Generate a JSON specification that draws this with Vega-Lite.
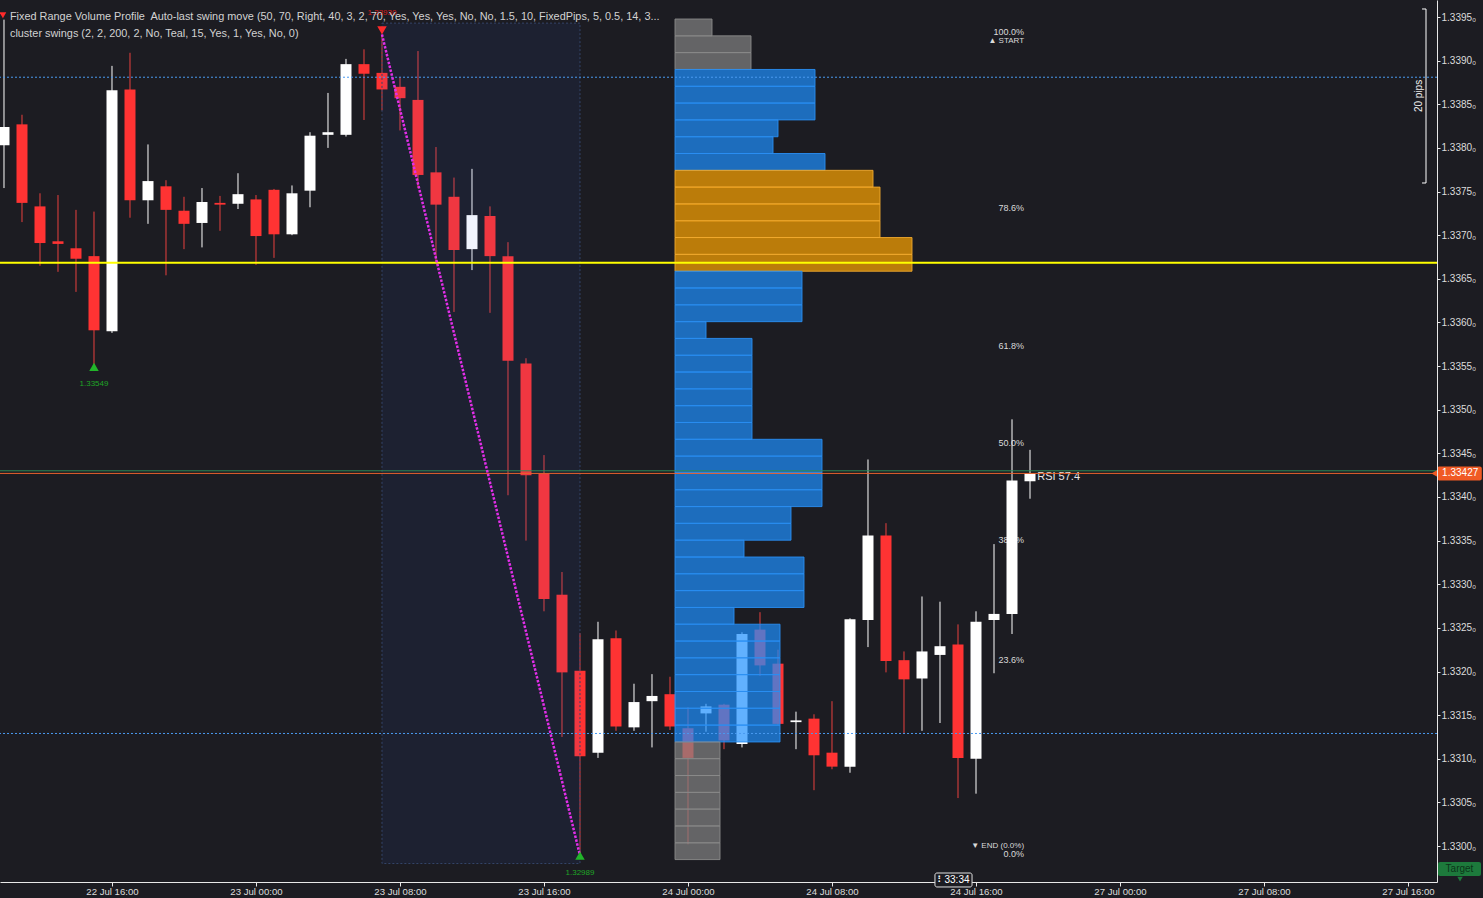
{
  "$schema": "https://vega.github.io/schema/vega-lite/v6.json",
  "width": 1437,
  "height": 882,
  "autosize": {"type": "none"},
  "padding": {"left": 0, "top": 0, "right": 46, "bottom": 16},
  "background": "#1c1c22",
  "config": {
    "view": {"stroke": null},
    "font": "Liberation Sans",
    "axis": {"title": null, "grid": false}
  },
  "datasets": {
    "candles": [
      {"t":10,"open":1.33803,"high":1.33947,"low":1.33754,"close":1.33824},
      {"t":11,"open":1.33827,"high":1.33838,"low":1.33715,"close":1.33737},
      {"t":12,"open":1.33733,"high":1.33748,"low":1.33665,"close":1.33691},
      {"t":13,"open":1.33693,"high":1.33746,"low":1.33658,"close":1.33690},
      {"t":14,"open":1.33685,"high":1.33729,"low":1.33635,"close":1.33673},
      {"t":15,"open":1.33676,"high":1.33727,"low":1.33549,"close":1.33591},
      {"t":16,"open":1.33590,"high":1.33894,"low":1.33588,"close":1.33866},
      {"t":17,"open":1.33867,"high":1.33909,"low":1.33720,"close":1.33740},
      {"t":18,"open":1.33740,"high":1.33804,"low":1.33713,"close":1.33762},
      {"t":19,"open":1.33756,"high":1.33763,"low":1.33654,"close":1.33729},
      {"t":20,"open":1.33728,"high":1.33744,"low":1.33684,"close":1.33713},
      {"t":21,"open":1.33714,"high":1.33754,"low":1.33686,"close":1.33738},
      {"t":22,"open":1.33737,"high":1.33745,"low":1.33705,"close":1.33735},
      {"t":23,"open":1.33736,"high":1.33771,"low":1.33730,"close":1.33747},
      {"t":24,"open":1.33741,"high":1.33746,"low":1.33666,"close":1.33699},
      {"t":25,"open":1.33752,"high":1.33753,"low":1.33674,"close":1.33701},
      {"t":26,"open":1.33701,"high":1.33757,"low":1.33700,"close":1.33748},
      {"t":27,"open":1.33751,"high":1.33818,"low":1.33732,"close":1.33814},
      {"t":28,"open":1.33815,"high":1.33863,"low":1.33800,"close":1.33818},
      {"t":29,"open":1.33815,"high":1.33902,"low":1.33813,"close":1.33896},
      {"t":30,"open":1.33896,"high":1.33913,"low":1.33832,"close":1.33885},
      {"t":31,"open":1.33886,"high":1.33930,"low":1.33843,"close":1.33867},
      {"t":32,"open":1.33870,"high":1.33881,"low":1.33820,"close":1.33857},
      {"t":33,"open":1.33855,"high":1.33911,"low":1.33754,"close":1.33769},
      {"t":34,"open":1.33772,"high":1.33801,"low":1.33669,"close":1.33735},
      {"t":35,"open":1.33744,"high":1.33766,"low":1.33612,"close":1.33683},
      {"t":36,"open":1.33684,"high":1.33776,"low":1.33660,"close":1.33723},
      {"t":37,"open":1.33722,"high":1.33733,"low":1.33611,"close":1.33676},
      {"t":38,"open":1.33676,"high":1.33692,"low":1.33402,"close":1.33556},
      {"t":39,"open":1.33553,"high":1.33559,"low":1.33350,"close":1.33425},
      {"t":40,"open":1.33427,"high":1.33448,"low":1.33269,"close":1.33283},
      {"t":41,"open":1.33288,"high":1.33314,"low":1.33125,"close":1.33199},
      {"t":42,"open":1.33201,"high":1.33244,"low":1.32989,"close":1.33103},
      {"t":43,"open":1.33107,"high":1.33257,"low":1.33101,"close":1.33237},
      {"t":44,"open":1.33238,"high":1.33247,"low":1.33132,"close":1.33137},
      {"t":45,"open":1.33136,"high":1.33186,"low":1.33132,"close":1.33165},
      {"t":46,"open":1.33166,"high":1.33197,"low":1.33113,"close":1.33172},
      {"t":47,"open":1.33174,"high":1.33194,"low":1.33133,"close":1.33137},
      {"t":48,"open":1.33135,"high":1.33159,"low":1.33002,"close":1.33101},
      {"t":49,"open":1.33152,"high":1.33163,"low":1.33131,"close":1.33160},
      {"t":50,"open":1.33162,"high":1.33163,"low":1.33111,"close":1.33121},
      {"t":51,"open":1.33117,"high":1.33245,"low":1.33113,"close":1.33243},
      {"t":52,"open":1.33248,"high":1.33268,"low":1.33195,"close":1.33207},
      {"t":53,"open":1.33209,"high":1.33225,"low":1.33139,"close":1.33140},
      {"t":54,"open":1.33142,"high":1.33154,"low":1.33111,"close":1.33144},
      {"t":55,"open":1.33146,"high":1.33151,"low":1.33064,"close":1.33104},
      {"t":56,"open":1.33107,"high":1.33166,"low":1.33088,"close":1.33091},
      {"t":57,"open":1.33091,"high":1.33261,"low":1.33084,"close":1.33260},
      {"t":58,"open":1.33259,"high":1.33443,"low":1.33228,"close":1.33356},
      {"t":59,"open":1.33356,"high":1.33370,"low":1.33199,"close":1.33212},
      {"t":60,"open":1.33213,"high":1.33223,"low":1.33129,"close":1.33191},
      {"t":61,"open":1.33192,"high":1.33286,"low":1.33132,"close":1.33223},
      {"t":62,"open":1.33219,"high":1.33280,"low":1.33141,"close":1.33229},
      {"t":63,"open":1.33231,"high":1.33254,"low":1.33055,"close":1.33101},
      {"t":64,"open":1.33100,"high":1.33269,"low":1.33060,"close":1.33257},
      {"t":65,"open":1.33259,"high":1.33346,"low":1.33198,"close":1.33266},
      {"t":66,"open":1.33266,"high":1.33489,"low":1.33243,"close":1.33419},
      {"t":67,"open":1.33418,"high":1.33454,"low":1.33398,"close":1.33427}
    ],
    "profile": [
      {"lo":1.339284,"hi":1.339477,"vol":37,"zone":"Outside"},
      {"lo":1.339092,"hi":1.339284,"vol":76,"zone":"Outside"},
      {"lo":1.338899,"hi":1.339092,"vol":76,"zone":"Outside"},
      {"lo":1.338706,"hi":1.338899,"vol":140,"zone":"Value area"},
      {"lo":1.338514,"hi":1.338706,"vol":140,"zone":"Value area"},
      {"lo":1.338321,"hi":1.338514,"vol":140,"zone":"Value area"},
      {"lo":1.338128,"hi":1.338321,"vol":103,"zone":"Value area"},
      {"lo":1.337936,"hi":1.338128,"vol":98,"zone":"Value area"},
      {"lo":1.337743,"hi":1.337936,"vol":150,"zone":"Value area"},
      {"lo":1.337551,"hi":1.337743,"vol":198,"zone":"Cluster"},
      {"lo":1.337358,"hi":1.337551,"vol":205,"zone":"Cluster"},
      {"lo":1.337165,"hi":1.337358,"vol":205,"zone":"Cluster"},
      {"lo":1.336973,"hi":1.337165,"vol":205,"zone":"Cluster"},
      {"lo":1.336780,"hi":1.336973,"vol":237,"zone":"Cluster"},
      {"lo":1.336587,"hi":1.336780,"vol":237,"zone":"Cluster"},
      {"lo":1.336395,"hi":1.336587,"vol":127,"zone":"Value area"},
      {"lo":1.336202,"hi":1.336395,"vol":127,"zone":"Value area"},
      {"lo":1.336009,"hi":1.336202,"vol":127,"zone":"Value area"},
      {"lo":1.335817,"hi":1.336009,"vol":31,"zone":"Value area"},
      {"lo":1.335624,"hi":1.335817,"vol":77,"zone":"Value area"},
      {"lo":1.335432,"hi":1.335624,"vol":77,"zone":"Value area"},
      {"lo":1.335239,"hi":1.335432,"vol":77,"zone":"Value area"},
      {"lo":1.335046,"hi":1.335239,"vol":77,"zone":"Value area"},
      {"lo":1.334854,"hi":1.335046,"vol":77,"zone":"Value area"},
      {"lo":1.334661,"hi":1.334854,"vol":77,"zone":"Value area"},
      {"lo":1.334468,"hi":1.334661,"vol":147,"zone":"Value area"},
      {"lo":1.334276,"hi":1.334468,"vol":147,"zone":"Value area"},
      {"lo":1.334083,"hi":1.334276,"vol":147,"zone":"Value area"},
      {"lo":1.333890,"hi":1.334083,"vol":147,"zone":"Value area"},
      {"lo":1.333698,"hi":1.333890,"vol":116,"zone":"Value area"},
      {"lo":1.333505,"hi":1.333698,"vol":116,"zone":"Value area"},
      {"lo":1.333312,"hi":1.333505,"vol":69,"zone":"Value area"},
      {"lo":1.333120,"hi":1.333312,"vol":129,"zone":"Value area"},
      {"lo":1.332927,"hi":1.333120,"vol":129,"zone":"Value area"},
      {"lo":1.332734,"hi":1.332927,"vol":129,"zone":"Value area"},
      {"lo":1.332542,"hi":1.332734,"vol":59,"zone":"Value area"},
      {"lo":1.332349,"hi":1.332542,"vol":105,"zone":"Value area"},
      {"lo":1.332157,"hi":1.332349,"vol":105,"zone":"Value area"},
      {"lo":1.331964,"hi":1.332157,"vol":105,"zone":"Value area"},
      {"lo":1.331771,"hi":1.331964,"vol":105,"zone":"Value area"},
      {"lo":1.331579,"hi":1.331771,"vol":105,"zone":"Value area"},
      {"lo":1.331386,"hi":1.331579,"vol":105,"zone":"Value area"},
      {"lo":1.331193,"hi":1.331386,"vol":105,"zone":"Value area"},
      {"lo":1.331001,"hi":1.331193,"vol":45,"zone":"Outside"},
      {"lo":1.330808,"hi":1.331001,"vol":45,"zone":"Outside"},
      {"lo":1.330615,"hi":1.330808,"vol":45,"zone":"Outside"},
      {"lo":1.330423,"hi":1.330615,"vol":45,"zone":"Outside"},
      {"lo":1.330230,"hi":1.330423,"vol":45,"zone":"Outside"},
      {"lo":1.330037,"hi":1.330230,"vol":45,"zone":"Outside"},
      {"lo":1.329845,"hi":1.330037,"vol":45,"zone":"Outside"}
    ],
    "fib": [
      {"label":"100.0%","price":1.33930},
      {"label":"78.6%","price":1.33729},
      {"label":"61.8%","price":1.33571},
      {"label":"50.0%","price":1.334595},
      {"label":"38.2%","price":1.33348},
      {"label":"23.6%","price":1.33211},
      {"label":"0.0%","price":1.32989}
    ],
    "swings": [
      {"t":15,"price":1.33549,"kind":"low","label":"1.33549"},
      {"t":42,"price":1.32989,"kind":"low","label":"1.32989"},
      {"t":31,"price":1.33930,"kind":"high","label":"1.33930"}
    ],
    "swingline": [
      {"t":31,"price":1.33930},
      {"t":42,"price":1.32989}
    ],
    "levels": [
      {"price":1.33881,"kind":"range"},
      {"price":1.33129,"kind":"range"},
      {"price":1.33430,"kind":"bid"},
      {"price":1.33427,"kind":"ask"},
      {"price":1.336684,"kind":"poc"}
    ]
  },
  "layer": [
    {
      "layer": [
        {
          "data": {"name": "fib"},
          "mark": {"type": "text", "align": "right", "baseline": "middle", "dy": -2, "fontSize": 9, "color": "#dadada"},
          "encoding": {
            "x": {"datum": 66.67, "type": "quantitative", "scale": {"domain": [9.778, 89.611], "nice": false, "zero": false, "padding": 0}, "axis": {"values": [16,24,32,40,48,56,64,72,80,88], "labelExpr": "['22 Jul','23 Jul','24 Jul','27 Jul'][floor(datum.value/24)] + ' ' + (datum.value % 24 < 10 ? '0' : '') + (datum.value % 24) + ':00'", "domainColor": "#e8e8e8", "tickColor": "#e8e8e8", "tickSize": 4, "labelColor": "#dcdcdc", "labelFontSize": 9.6, "labelPadding": 0, "title": null}},
            "y": {"field": "price", "type": "quantitative", "scale": {"domain": [1.329588, 1.339695], "nice": false, "zero": false, "padding": 0}, "axis": {"orient": "right", "values": [1.33,1.3305,1.331,1.3315,1.332,1.3325,1.333,1.3335,1.334,1.3345,1.335,1.3355,1.336,1.3365,1.337,1.3375,1.338,1.3385,1.339,1.3395], "labelExpr": "format(datum.value, '.4f') + '₀'", "domainColor": "#e8e8e8", "tickColor": "#e8e8e8", "tickSize": 3, "labelColor": "#dcdcdc", "labelFontSize": 10, "labelPadding": 1, "title": null, "zindex": 1}},
            "text": {"field": "label"}
          }
        },
        {
          "data": {"values": [{"label": "RSI 57.4", "price": 1.33427}]},
          "mark": {"type": "text", "align": "left", "baseline": "middle", "dy": 4, "fontSize": 11, "color": "#e6e6e6"},
          "encoding": {
            "x": {"datum": 67.4, "type": "quantitative", "scale": {"domain": [9.778, 89.611], "nice": false, "zero": false, "padding": 0}},
            "y": {"field": "price", "type": "quantitative", "scale": {"domain": [1.329588, 1.339695], "nice": false, "zero": false, "padding": 0}},
            "text": {"field": "label"}
          }
        },
        {
          "data": {"name": "candles"},
          "mark": {"type": "rule", "strokeWidth": 1, "clip": true},
          "encoding": {
            "x": {"field": "t", "type": "quantitative", "scale": {"domain": [9.778, 89.611], "nice": false, "zero": false, "padding": 0}},
            "y": {"field": "low", "type": "quantitative", "scale": {"domain": [1.329588, 1.339695], "nice": false, "zero": false, "padding": 0}},
            "y2": {"field": "high"},
            "color": {"condition": {"test": "datum.close >= datum.open", "value": "#ffffff"}, "value": "#e8403f"}
          }
        },
        {
          "data": {"name": "candles"},
          "mark": {"type": "bar", "size": 11, "clip": true},
          "encoding": {
            "x": {"field": "t", "type": "quantitative", "scale": {"domain": [9.778, 89.611], "nice": false, "zero": false, "padding": 0}},
            "y": {"field": "open", "type": "quantitative", "scale": {"domain": [1.329588, 1.339695], "nice": false, "zero": false, "padding": 0}},
            "y2": {"field": "close"},
            "color": {"condition": {"test": "datum.close >= datum.open", "value": "#ffffff"}, "value": "#ff3333"}
          }
        },
        {
          "data": {"values": [{"top": 1.33943, "bottom": 1.32980}]},
          "mark": {"type": "rect", "fill": "#3a6ef0", "fillOpacity": 0.075, "stroke": "#34446a", "strokeWidth": 1, "strokeDash": [2, 2]},
          "encoding": {
            "x": {"datum": 31, "type": "quantitative", "scale": {"domain": [9.778, 89.611], "nice": false, "zero": false, "padding": 0}},
            "x2": {"datum": 42},
            "y": {"field": "top", "type": "quantitative", "scale": {"domain": [1.329588, 1.339695], "nice": false, "zero": false, "padding": 0}},
            "y2": {"field": "bottom"}
          }
        }
      ]
    },
    {
      "data": {"name": "profile"},
      "mark": {"type": "rect", "fillOpacity": 0.7, "strokeWidth": 1, "strokeOpacity": 0.9},
      "encoding": {
        "x": {"field": "vol", "type": "quantitative", "scale": {"domain": [-675, 762], "nice": false, "zero": false, "padding": 0}, "axis": null},
        "x2": {"datum": 0},
        "y": {"field": "lo", "type": "quantitative", "scale": {"domain": [1.329588, 1.339695], "nice": false, "zero": false, "padding": 0}},
        "y2": {"field": "hi"},
        "fill": {"field": "zone", "type": "nominal", "scale": {"domain": ["Outside", "Value area", "Cluster"], "range": ["#838383", "#1e90ff", "#ffa500"]}, "legend": null},
        "stroke": {"field": "zone", "type": "nominal", "scale": {"domain": ["Outside", "Value area", "Cluster"], "range": ["#8a8a8a", "#2a8ef2", "#f0a830"]}, "legend": null}
      }
    },
    {
      "layer": [
        {
          "data": {"name": "levels"},
          "transform": [{"filter": "datum.kind == 'poc'"}],
          "mark": {"type": "rule", "color": "#ffff00", "strokeWidth": 2},
          "encoding": {
            "y": {"field": "price", "type": "quantitative", "scale": {"domain": [1.329588, 1.339695], "nice": false, "zero": false, "padding": 0}}
          }
        },
        {
          "data": {"name": "levels"},
          "transform": [{"filter": "datum.kind == 'range'"}],
          "mark": {"type": "rule", "color": "#4a9af0", "strokeWidth": 1, "strokeDash": [2, 2]},
          "encoding": {
            "y": {"field": "price", "type": "quantitative", "scale": {"domain": [1.329588, 1.339695], "nice": false, "zero": false, "padding": 0}}
          }
        },
        {
          "data": {"name": "levels"},
          "transform": [{"filter": "datum.kind == 'bid'"}],
          "mark": {"type": "rule", "color": "#2e8b57", "strokeWidth": 1},
          "encoding": {
            "y": {"field": "price", "type": "quantitative", "scale": {"domain": [1.329588, 1.339695], "nice": false, "zero": false, "padding": 0}}
          }
        },
        {
          "data": {"name": "levels"},
          "transform": [{"filter": "datum.kind == 'ask'"}],
          "mark": {"type": "rule", "color": "#e8612c", "strokeWidth": 1},
          "encoding": {
            "y": {"field": "price", "type": "quantitative", "scale": {"domain": [1.329588, 1.339695], "nice": false, "zero": false, "padding": 0}}
          }
        },
        {
          "data": {"name": "swingline"},
          "mark": {"type": "line", "color": "#e22ee8", "strokeWidth": 2.5, "strokeDash": [2.5, 1.5]},
          "encoding": {
            "x": {"field": "t", "type": "quantitative", "scale": {"domain": [9.778, 89.611], "nice": false, "zero": false, "padding": 0}, "axis": null},
            "y": {"field": "price", "type": "quantitative", "scale": {"domain": [1.329588, 1.339695], "nice": false, "zero": false, "padding": 0}}
          }
        },
        {
          "data": {"name": "swings"},
          "transform": [{"filter": "datum.kind == 'low'"}],
          "mark": {"type": "point", "shape": "triangle-up", "filled": true, "size": 90, "color": "#22b52a", "opacity": 1},
          "encoding": {
            "x": {"field": "t", "type": "quantitative", "scale": {"domain": [9.778, 89.611], "nice": false, "zero": false, "padding": 0}, "axis": null},
            "y": {"field": "price", "type": "quantitative", "scale": {"domain": [1.329588, 1.339695], "nice": false, "zero": false, "padding": 0}}
          }
        },
        {
          "data": {"name": "swings"},
          "transform": [{"filter": "datum.kind == 'low'"}],
          "mark": {"type": "text", "align": "center", "baseline": "middle", "dy": 17, "fontSize": 8, "color": "#1fa526"},
          "encoding": {
            "x": {"field": "t", "type": "quantitative", "scale": {"domain": [9.778, 89.611], "nice": false, "zero": false, "padding": 0}, "axis": null},
            "y": {"field": "price", "type": "quantitative", "scale": {"domain": [1.329588, 1.339695], "nice": false, "zero": false, "padding": 0}},
            "text": {"field": "label"}
          }
        },
        {
          "data": {"name": "swings"},
          "transform": [{"filter": "datum.kind == 'high'"}],
          "mark": {"type": "point", "shape": "triangle-down", "filled": true, "size": 90, "color": "#ff2a2a", "opacity": 1, "yOffset": -4},
          "encoding": {
            "x": {"field": "t", "type": "quantitative", "scale": {"domain": [9.778, 89.611], "nice": false, "zero": false, "padding": 0}, "axis": null},
            "y": {"field": "price", "type": "quantitative", "scale": {"domain": [1.329588, 1.339695], "nice": false, "zero": false, "padding": 0}}
          }
        },
        {
          "data": {"name": "swings"},
          "transform": [{"filter": "datum.kind == 'high'"}],
          "mark": {"type": "text", "align": "center", "baseline": "middle", "dy": -21, "fontSize": 8, "color": "#d81c1c"},
          "encoding": {
            "x": {"field": "t", "type": "quantitative", "scale": {"domain": [9.778, 89.611], "nice": false, "zero": false, "padding": 0}, "axis": null},
            "y": {"field": "price", "type": "quantitative", "scale": {"domain": [1.329588, 1.339695], "nice": false, "zero": false, "padding": 0}},
            "text": {"field": "label"}
          }
        },
        {
          "data": {"values": [{"label": "▲ START", "price": 1.33930}]},
          "mark": {"type": "text", "align": "right", "baseline": "middle", "dy": 7, "fontSize": 8, "color": "#dadada"},
          "encoding": {
            "x": {"datum": 66.67, "type": "quantitative", "scale": {"domain": [9.778, 89.611], "nice": false, "zero": false, "padding": 0}, "axis": null},
            "y": {"field": "price", "type": "quantitative", "scale": {"domain": [1.329588, 1.339695], "nice": false, "zero": false, "padding": 0}},
            "text": {"field": "label"}
          }
        },
        {
          "data": {"values": [{"label": "▼ END (0.0%)", "price": 1.32989}]},
          "mark": {"type": "text", "align": "right", "baseline": "middle", "dy": -10, "fontSize": 8, "color": "#dadada"},
          "encoding": {
            "x": {"datum": 66.67, "type": "quantitative", "scale": {"domain": [9.778, 89.611], "nice": false, "zero": false, "padding": 0}, "axis": null},
            "y": {"field": "price", "type": "quantitative", "scale": {"domain": [1.329588, 1.339695], "nice": false, "zero": false, "padding": 0}},
            "text": {"field": "label"}
          }
        },
        {
          "data": {"values": [
            {"label": "Fixed Range Volume Profile\u00a0 Auto-last swing move (50, 70, Right, 40, 3, 2, 70, Yes, Yes, Yes, No, No, 1.5, 10, FixedPips, 5, 0.5, 14, 3...", "price": 1.33950},
            {"label": "cluster swings (2, 2, 200, 2, No, Teal, 15, Yes, 1, Yes, No, 0)", "price": 1.33930}
          ]},
          "mark": {"type": "text", "align": "left", "baseline": "middle", "fontSize": 10.9, "color": "#d2d2d2"},
          "encoding": {
            "x": {"datum": 10.33, "type": "quantitative", "scale": {"domain": [9.778, 89.611], "nice": false, "zero": false, "padding": 0}, "axis": null},
            "y": {"field": "price", "type": "quantitative", "scale": {"domain": [1.329588, 1.339695], "nice": false, "zero": false, "padding": 0}},
            "text": {"field": "label"}
          }
        },
        {
          "data": {"values": [{"price": 1.33952}]},
          "mark": {"type": "point", "shape": "triangle-down", "filled": true, "size": 45, "color": "#ff2a2a", "opacity": 1},
          "encoding": {
            "x": {"datum": 9.94, "type": "quantitative", "scale": {"domain": [9.778, 89.611], "nice": false, "zero": false, "padding": 0}, "axis": null},
            "y": {"field": "price", "type": "quantitative", "scale": {"domain": [1.329588, 1.339695], "nice": false, "zero": false, "padding": 0}}
          }
        },
        {
          "data": {"values": [{"top": 1.339592, "bottom": 1.337598}]},
          "mark": {"type": "rule", "color": "#ffffff", "strokeWidth": 1},
          "encoding": {
            "x": {"datum": 89.0, "type": "quantitative", "scale": {"domain": [9.778, 89.611], "nice": false, "zero": false, "padding": 0}, "axis": null},
            "y": {"field": "top", "type": "quantitative", "scale": {"domain": [1.329588, 1.339695], "nice": false, "zero": false, "padding": 0}},
            "y2": {"field": "bottom"}
          }
        },
        {
          "data": {"values": [{"price": 1.339592}, {"price": 1.337598}]},
          "mark": {"type": "rule", "color": "#ffffff", "strokeWidth": 1},
          "encoding": {
            "x": {"datum": 88.78, "type": "quantitative", "scale": {"domain": [9.778, 89.611], "nice": false, "zero": false, "padding": 0}, "axis": null},
            "x2": {"datum": 89.0},
            "y": {"field": "price", "type": "quantitative", "scale": {"domain": [1.329588, 1.339695], "nice": false, "zero": false, "padding": 0}}
          }
        },
        {
          "data": {"values": [{"label": "20 pips", "price": 1.338595}]},
          "mark": {"type": "text", "angle": 270, "align": "center", "baseline": "middle", "fontSize": 10, "color": "#f0f0f0"},
          "encoding": {
            "x": {"datum": 88.6, "type": "quantitative", "scale": {"domain": [9.778, 89.611], "nice": false, "zero": false, "padding": 0}, "axis": null},
            "y": {"field": "price", "type": "quantitative", "scale": {"domain": [1.329588, 1.339695], "nice": false, "zero": false, "padding": 0}},
            "text": {"field": "label"}
          }
        },
        {
          "data": {"values": [{"top": 1.33435, "bottom": 1.33419}]},
          "mark": {"type": "rect", "fill": "#f05a24", "cornerRadius": 2},
          "encoding": {
            "x": {"datum": 89.62, "type": "quantitative", "scale": {"domain": [9.778, 89.611], "nice": false, "zero": false, "padding": 0}, "axis": null},
            "x2": {"datum": 92.1},
            "y": {"field": "top", "type": "quantitative", "scale": {"domain": [1.329588, 1.339695], "nice": false, "zero": false, "padding": 0}},
            "y2": {"field": "bottom"}
          }
        },
        {
          "data": {"values": [{"price": 1.33427}]},
          "mark": {"type": "point", "shape": "triangle-left", "filled": true, "size": 70, "color": "#f05a24", "opacity": 1},
          "encoding": {
            "x": {"datum": 89.5, "type": "quantitative", "scale": {"domain": [9.778, 89.611], "nice": false, "zero": false, "padding": 0}, "axis": null},
            "y": {"field": "price", "type": "quantitative", "scale": {"domain": [1.329588, 1.339695], "nice": false, "zero": false, "padding": 0}}
          }
        },
        {
          "data": {"values": [{"label": "1.33427", "price": 1.33427}]},
          "mark": {"type": "text", "align": "center", "baseline": "middle", "fontSize": 10, "color": "#ffffff"},
          "encoding": {
            "x": {"datum": 90.9, "type": "quantitative", "scale": {"domain": [9.778, 89.611], "nice": false, "zero": false, "padding": 0}, "axis": null},
            "y": {"field": "price", "type": "quantitative", "scale": {"domain": [1.329588, 1.339695], "nice": false, "zero": false, "padding": 0}},
            "text": {"field": "label"}
          }
        },
        {
          "data": {"values": [{"top": 1.329817, "bottom": 1.329657}]},
          "mark": {"type": "rect", "fill": "#1d7a3c", "cornerRadius": 2},
          "encoding": {
            "x": {"datum": 89.667, "type": "quantitative", "scale": {"domain": [9.778, 89.611], "nice": false, "zero": false, "padding": 0}, "axis": null},
            "x2": {"datum": 92.056},
            "y": {"field": "top", "type": "quantitative", "scale": {"domain": [1.329588, 1.339695], "nice": false, "zero": false, "padding": 0}},
            "y2": {"field": "bottom"}
          }
        },
        {
          "data": {"values": [{"label": "Target", "price": 1.329737}]},
          "mark": {"type": "text", "align": "center", "baseline": "middle", "fontSize": 10, "color": "#0b3519"},
          "encoding": {
            "x": {"datum": 90.86, "type": "quantitative", "scale": {"domain": [9.778, 89.611], "nice": false, "zero": false, "padding": 0}, "axis": null},
            "y": {"field": "price", "type": "quantitative", "scale": {"domain": [1.329588, 1.339695], "nice": false, "zero": false, "padding": 0}},
            "text": {"field": "label"}
          }
        },
        {
          "data": {"values": [{"price": 1.329622}]},
          "mark": {"type": "point", "shape": "triangle-down", "filled": true, "size": 30, "color": "#1d7a3c", "opacity": 1},
          "encoding": {
            "x": {"datum": 90.89, "type": "quantitative", "scale": {"domain": [9.778, 89.611], "nice": false, "zero": false, "padding": 0}, "axis": null},
            "y": {"field": "price", "type": "quantitative", "scale": {"domain": [1.329588, 1.339695], "nice": false, "zero": false, "padding": 0}}
          }
        },
        {
          "data": {"values": [{"top": 1.329691, "bottom": 1.329531}]},
          "mark": {"type": "rect", "fill": "#1c1c22", "stroke": "#e0e0e0", "strokeWidth": 1, "cornerRadius": 2},
          "encoding": {
            "x": {"datum": 61.72, "type": "quantitative", "scale": {"domain": [9.778, 89.611], "nice": false, "zero": false, "padding": 0}, "axis": null},
            "x2": {"datum": 63.78},
            "y": {"field": "top", "type": "quantitative", "scale": {"domain": [1.329588, 1.339695], "nice": false, "zero": false, "padding": 0}},
            "y2": {"field": "bottom"}
          }
        },
        {
          "data": {"values": [{"label": "⠇33:34", "price": 1.32961}]},
          "mark": {"type": "text", "align": "center", "baseline": "middle", "fontSize": 10, "color": "#ffffff"},
          "encoding": {
            "x": {"datum": 62.75, "type": "quantitative", "scale": {"domain": [9.778, 89.611], "nice": false, "zero": false, "padding": 0}, "axis": null},
            "y": {"field": "price", "type": "quantitative", "scale": {"domain": [1.329588, 1.339695], "nice": false, "zero": false, "padding": 0}},
            "text": {"field": "label"}
          }
        }
      ]
    }
  ],
  "resolve": {"scale": {"x": "independent"}, "axis": {"x": "independent"}}
}
